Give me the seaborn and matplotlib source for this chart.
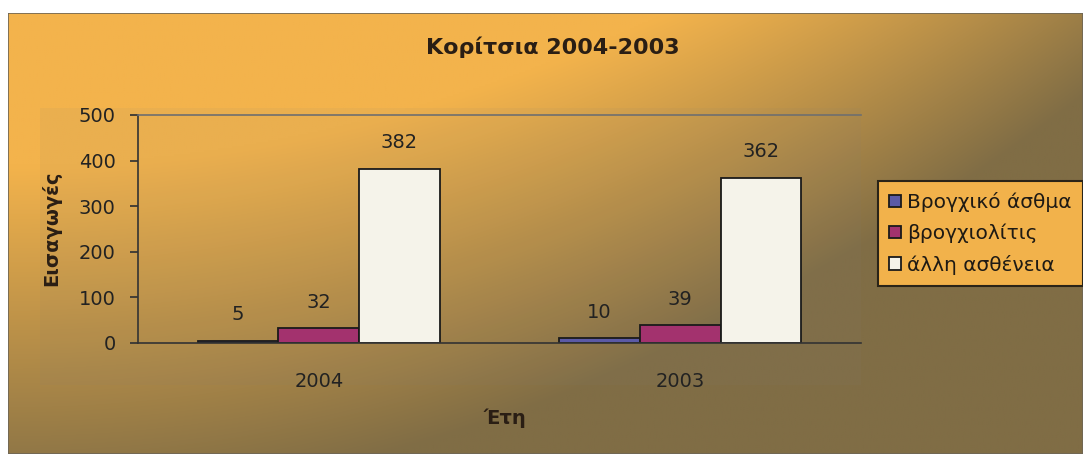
import numpy as np
import pandas as pd
import matplotlib
matplotlib.use("Agg")
import matplotlib.pyplot as plt
import seaborn as sns
from matplotlib.colors import to_rgb
from matplotlib.patches import Rectangle

# Data
years = ["2004", "2003"]
diseases = ["Βρογχικό άσθμα", "βρογχιολίτις", "άλλη ασθένεια"]
asthma = [5, 10]
bronchiolitis = [32, 39]
other = [382, 362]
y_ticks = [0, 100, 200, 300, 400, 500]

title = "Κορίτσια 2004-2003"
y_label = "Εισαγωγές"
x_label = "Έτη"

colors = ["#5b5aa6", "#a3326e", "#f5f3ea"]

df = pd.DataFrame({
    "Έτος": years * 3,
    "Νόσος": [d for d in diseases for _ in years],
    "Εισαγωγές": asthma + bronchiolitis + other,
})

sns.set_theme(style="white")
plt.rcParams["font.family"] = ["DejaVu Sans"]

W, H = 1083, 454
fig = plt.figure(figsize=(W / 100, H / 100), dpi=100)
fig.patch.set_facecolor("white")

# Warm gradient backdrop: orange at the top-left fading to olive brown
bg = fig.add_axes([8 / W, 0, 1 - 8 / W, 1 - 13 / H], zorder=-10)
gw, gh = 540, 220
u = np.linspace(0, 1, gw)[None, :]
v = np.linspace(0, 1, gh)[:, None]
s = np.clip(1.2 * u ** 2 + 1.3 * v - 0.45, 0, 1)
c0 = np.array(to_rgb("#f3b34c"))
c1 = np.array(to_rgb("#806d45"))
img = c0[None, None, :] * (1 - s[..., None]) + c1[None, None, :] * s[..., None]
bg.imshow(img, aspect="auto", extent=[0, 1, 0, 1], interpolation="bilinear")
bg.set_xlim(0, 1)
bg.set_ylim(0, 1)
bg.axis("off")
bg.add_patch(Rectangle((0, 0), 1, 1, transform=bg.transAxes, fill=False,
                       edgecolor="#6e6656", linewidth=1.2))
# slightly greyer panel behind the plot and its tick labels
fig.patches.append(Rectangle((40 / W, 1 - 385 / H), (861 - 40) / W, (385 - 108) / H,
                             transform=fig.transFigure, facecolor="#808080",
                             alpha=0.07, edgecolor="none", zorder=-5))

ax = fig.add_axes([138 / W, 1 - 343 / H, (861 - 138) / W, (343 - 115) / H])
ax.patch.set_alpha(0)
sns.barplot(data=df, x="Έτος", y="Εισαγωγές", hue="Νόσος", order=years,
            hue_order=diseases, palette=colors, width=0.67, saturation=1,
            edgecolor="#1a1a1a", linewidth=1.3, errorbar=None, ax=ax)

for cont in ax.containers:
    ax.bar_label(cont, fmt="%d", padding=12, fontsize=14, color="#222222")

ax.set_ylim(0, 500)
ax.set_xlim(-0.5, 1.5)
ax.set_yticks(y_ticks)
ax.set_yticklabels([str(t) for t in y_ticks], fontsize=14, color="#222222")
ax.set_xticks([-0.5, 0.5, 1.5])
ax.set_xticklabels([])
ax.set_xticks([0, 1], minor=True)
ax.set_xticklabels(years, minor=True, fontsize=14, color="#222222")
ax.tick_params(axis="x", which="major", direction="out", length=5, color="#333333")
ax.tick_params(axis="x", which="minor", length=0, pad=21)
ax.tick_params(axis="y", direction="out", length=6, color="#333333", pad=10, left=True)
ax.set_xlabel("")
ax.set_ylabel("")

for side in ["left", "bottom"]:
    ax.spines[side].set_color("#333333")
    ax.spines[side].set_linewidth(1.2)
ax.spines["top"].set_color("#6f6f6f")
ax.spines["top"].set_linewidth(1.2)
ax.spines["right"].set_visible(False)

handles, labels = ax.get_legend_handles_labels()
leg = ax.legend(handles, labels, loc="upper left",
                bbox_to_anchor=(878 / W, 1 - 181 / H), bbox_transform=fig.transFigure,
                borderaxespad=0, fontsize=14.5, frameon=True, fancybox=False,
                framealpha=1, handlelength=0.6, handleheight=0.6,
                handletextpad=0.3, labelspacing=0.57, borderpad=0.55)
leg.get_frame().set_facecolor("#f2b24b")
leg.get_frame().set_edgecolor("#2a2418")
leg.get_frame().set_linewidth(1.5)
for t in leg.get_texts():
    t.set_color("#1e1a14")

fig.text(553 / W, 1 - 47 / H, title, ha="center", va="center",
         fontsize=16, fontweight="bold", color="#2a1e14")
fig.text(51 / W, 1 - 228 / H, y_label, ha="center", va="center", rotation=90,
         fontsize=14, fontweight="bold", color="#2a1e14")
fig.text(505 / W, 1 - 418 / H, x_label, ha="center", va="center",
         fontsize=14, fontweight="bold", color="#2a1e14")

fig.savefig("out.png", dpi=100)
